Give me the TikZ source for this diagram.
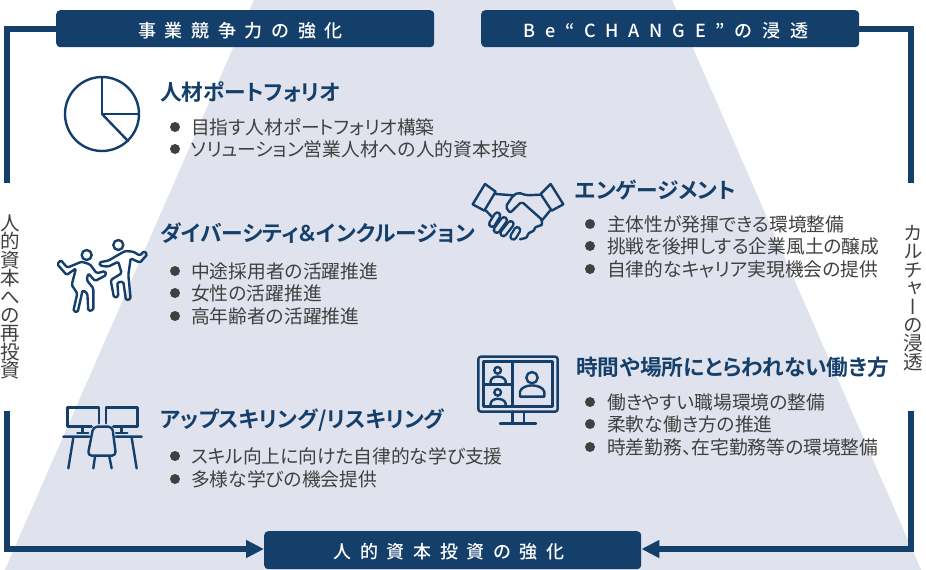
\documentclass[tikz,border=0pt]{standalone}
\usepackage{fontspec}
\usetikzlibrary{arrows.meta}
\setmainfont[RawFeature=+palt]{Noto Sans CJK JP}
\newfontfamily\jpbold[RawFeature=+palt]{Noto Sans CJK JP Bold}
\newfontfamily\jpmed{Noto Sans CJK JP Medium}
\newfontfamily\jpvert[RawFeature=+vert]{Noto Sans CJK JP}
\newcommand{\px}[1]{\fontsize{#1pt}{#1pt}\selectfont}
\newcommand{\pxl}[2]{\fontsize{#1pt}{#2pt}\selectfont}
\definecolor{navy}{HTML}{153F6B}
\definecolor{pale}{HTML}{E0E3ED}
\definecolor{ink}{HTML}{404040}
\tikzset{
  banner/.style={fill=navy,rounded corners=4pt,inner sep=0pt,anchor=north west,text=white},
  bannertext/.style={text=white,inner sep=0pt,font=\jpmed\px{18}\addfontfeature{LetterSpace=48}},
  heading/.style={anchor=west,inner sep=0pt,text=navy,font=\jpbold\px{21.7}},
  item/.style={anchor=west,inner sep=0pt,text=ink,font=\px{18.75}},
  dot/.style={circle,fill=ink,inner sep=0pt,minimum size=10pt},
  side/.style={inner sep=0pt,text=ink,align=center,font=\pxl{19.5}{18.45}},
  frameline/.style={draw=navy,line width=5.5pt},
  icon/.style={draw=navy,line width=2.4pt,line join=round,line cap=round},
}
\newcommand{\bullitem}[5]{\node[dot] at (#1,#3) {}; \node[item] (#5) at (#2,#3) {#4};}
\begin{document}
\begin{tikzpicture}[x=1pt,y=-1pt]
\useasboundingbox (0,0) rectangle (926,570);
% backdrop
\fill[pale] (254,0) -- (672,0) -- (926,581) -- (926,570) -- (0,570) -- (0,581) -- cycle;
% banners
\node[banner,minimum width=378pt,minimum height=37pt] (bizbox) at (56,10) {};
\node[banner,minimum width=378pt,minimum height=37pt] (bebox) at (481,10) {};
\node[banner,minimum width=377pt,minimum height=38pt] (invbox) at (264,531) {};
\node[bannertext] (biztext) at (240.5,31) {事業競争力の強化};
\node[bannertext,font=\jpmed\px{18}\addfontfeature{LetterSpace=54}] (betext) at (666,31) {Be“CHANGE”の浸透};
\node[bannertext] (invtext) at (449,552) {人的資本投資の強化};
% frame
\coordinate (ltend) at (7,183);
\coordinate (lbstart) at (7,411);
\coordinate (rtend) at (911,183);
\coordinate (rbstart) at (911,411);
\coordinate (lcorner) at (7,29);
\coordinate (rcorner) at (911,29);
\coordinate (bottomline) at (0,549);
\draw[frameline] (ltend) -- (lcorner) -- (lcorner -| bizbox.west);
\draw[frameline] (rtend) -- (rcorner) -- (rcorner -| bebox.east);
\draw[frameline,-{Triangle[length=18pt,width=17pt]}] (lbstart) |- (bottomline -| invbox.west);
\draw[frameline,-{Triangle[length=18pt,width=17pt]}] (rbstart) |- (bottomline -| invbox.east);
% side labels
\node[side] (lefttext) at (10,297) {人\\的\\資\\本\\へ\\の\\再\\投\\資};
\node[side,font=\jpvert\pxl{19.5}{18.45}] (righttext) at (913,298) {カ\\ル\\チ\\ャ\\ー\\の\\浸\\透};
% headings and items
\node[heading] (h1) at (160,92) {人材ポートフォリオ};
\bullitem{175}{191}{127}{目指す人材ポートフォリオ構築}{a1}
\bullitem{175}{191}{149}{ソリューション営業人材への人的資本投資}{a2}
\node[heading] (h2) at (160,233) {ダイバーシティ＆インクルージョン};
\bullitem{175}{191}{271}{中途採用者の活躍推進}{b1}
\bullitem{175}{191}{293}{女性の活躍推進}{b2}
\bullitem{175}{191}{316}{高年齢者の活躍推進}{b3}
\node[heading] (h3) at (160,420) {アップスキリング/リスキリング};
\bullitem{175}{191}{456}{スキル向上に向けた自律的な学び支援}{c1}
\bullitem{175}{191}{479}{多様な学びの機会提供}{c2}
\node[heading] (h4) at (575,190) {エンゲージメント};
\bullitem{590}{607}{224}{主体性が発揮できる環境整備}{d1}
\bullitem{590}{607}{246}{挑戦を後押しする企業風土の醸成}{d2}
\bullitem{590}{607}{269}{自律的なキャリア実現機会の提供}{d3}
\node[heading] (h5) at (576,367) {時間や場所にとらわれない働き方};
\bullitem{590}{607}{402}{働きやすい職場環境の整備}{e1}
\bullitem{590}{607}{424}{柔軟な働き方の推進}{e2}
\bullitem{590}{607}{447}{時差勤務、在宅勤務等の環境整備}{e3}
% pie icon
\begin{scope}[icon]
\draw (102,114) circle (37);
\draw (102,77) -- (102,114) -- (139,114);
\draw (102,114) -- (128,141);
\end{scope}
% people icon
\begin{scope}[shift={(40,225)},x=0.3333pt,y=-0.3333pt,icon]
\draw (140,90) circle (15);
\draw[rounded corners=1.5pt] (62,105) -- (82,128) -- (125,110) -- (150,118) -- (170,145) -- (195,138) -- (199,150) -- (165,168) -- (145,145) -- (140,165) -- (160,190) -- (160,255) -- (145,258) -- (142,205) -- (128,195) -- (113,262) -- (100,258) -- (112,205) -- (95,180) -- (108,130) -- (80,150) -- (52,118) -- cycle;
\draw (235,60) circle (15);
\draw[rounded corners=1.5pt] (178,112) -- (205,107) -- (255,78) -- (280,80) -- (300,92) -- (312,78) -- (322,88) -- (300,113) -- (272,100) -- (265,150) -- (272,222) -- (258,226) -- (250,170) -- (232,172) -- (235,215) -- (222,218) -- (212,165) -- (245,145) -- (235,110) -- (205,125) -- (180,122) -- cycle;
\end{scope}
% desk icon
\begin{scope}[shift={(50,395)},x=0.3333pt,y=-0.3333pt,icon]
\draw (147,85) -- (147,37) -- (52,37) -- (52,95) -- (125,95);
\draw (98,95) -- (98,112) (82,114) -- (115,114);
\draw (40,125) -- (118,125) (70,128) -- (55,220);
\draw (168,85) -- (168,37) -- (262,37) -- (262,95) -- (190,95);
\draw (215,95) -- (215,112) (198,114) -- (232,114);
\draw (198,125) -- (275,125) (245,128) -- (260,220);
\draw[rounded corners=4pt] (130,95) -- (187,95) -- (198,182) -- (113,182) -- cycle;
\draw (135,185) -- (130,220) (178,185) -- (185,220);
\end{scope}
% handshake icon
\begin{scope}[shift={(460,170)},x=0.3333pt,y=-0.3333pt,icon]
\draw (75,42) -- (107,65) -- (73,122) -- (38,103) -- cycle;
\draw (272,42) -- (242,72) -- (275,122) -- (310,103) -- cycle;
\draw (107,72) -- (160,76);
\draw[rounded corners=2pt] (242,74) -- (200,76) -- (175,68) -- (160,76) -- (137,110) -- (150,129) -- (185,95) -- (247,150) -- (245,165);
\draw (78,122) -- (100,145) (247,150) -- (270,122);
\draw[rounded corners=1pt] (245,165) -- (225,172) -- (222,182) -- (205,190) -- (200,203) -- (180,208);
\foreach \fa/\fb/\fc/\fd in {172/180/160/200,152/162/130/190,132/150/110/180,112/136/96/162}{
  \draw[line width=8.2pt] (\fa,\fb) -- (\fc,\fd);
  \draw[draw=pale,line width=3.4pt] (\fa,\fb) -- (\fc,\fd);
}
\end{scope}
% video call icon
\begin{scope}[shift={(465,345)},x=0.3333pt,y=-0.3333pt,icon]
\draw[rounded corners=2.5pt] (40,35) rectangle (278,200);
\draw (55,50) rectangle (263,185);
\draw (142,50) -- (142,185) (55,118) -- (142,118);
\draw (142,200) -- (142,235) (177,200) -- (177,235) (105,236) -- (213,236);
\draw (98,76) circle (10);
\draw (77,115) -- (77,108) .. controls (80,90) and (116,90) .. (122,108) -- (122,115);
\draw (98,142) circle (10);
\draw (77,183) -- (77,175) .. controls (80,157) and (116,157) .. (122,175) -- (122,183);
\draw (201,98) circle (17);
\draw (165,155) -- (165,140) .. controls (172,115) and (230,115) .. (238,140) -- (238,155) -- cycle;
\end{scope}
\end{tikzpicture}
\end{document}
